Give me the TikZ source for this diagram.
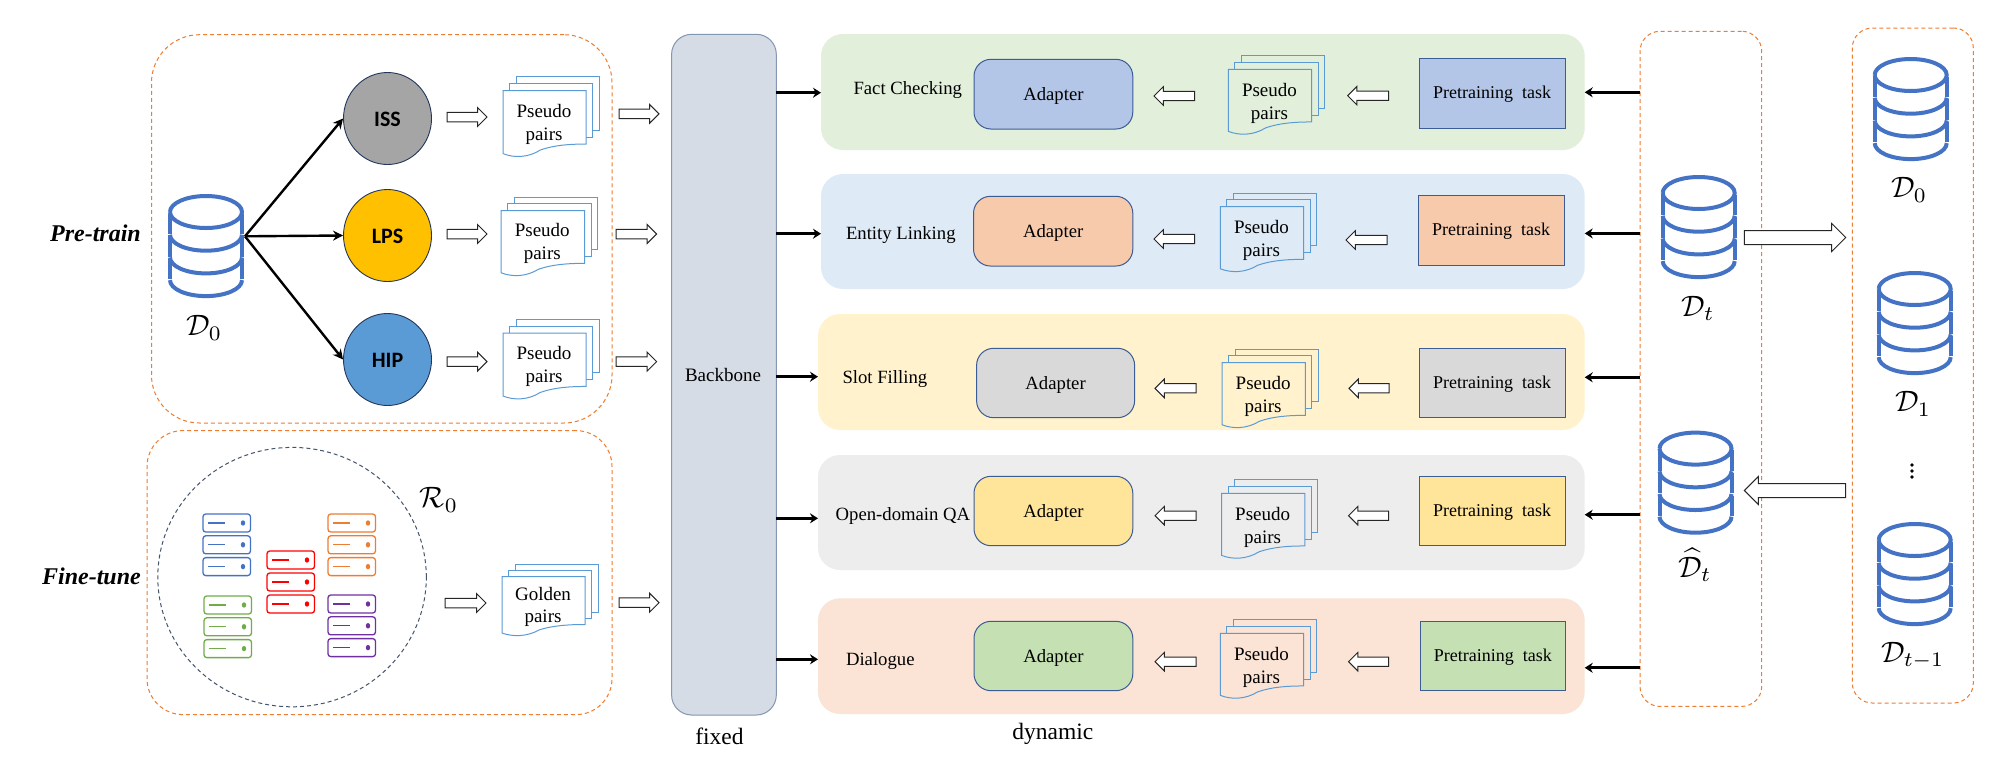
\documentclass[tikz,border=0pt]{standalone}
\usepackage{fontspec}
\setmainfont{Liberation Serif}
\newfontfamily\cali{Carlito}
\usetikzlibrary{shapes.geometric,arrows.meta}
\definecolor{dbblue}{HTML}{4472C4}
\definecolor{dashor}{HTML}{ED7D31}
\definecolor{docblue}{HTML}{5B9BD5}
\definecolor{edgeblue}{HTML}{3B5C94}
\definecolor{bandA}{HTML}{E2EFDA}
\definecolor{bandB}{HTML}{DEEAF6}
\definecolor{bandC}{HTML}{FFF2CC}
\definecolor{bandD}{HTML}{EDEDED}
\definecolor{bandE}{HTML}{FBE4D5}
\definecolor{fillA}{HTML}{B4C6E7}
\definecolor{fillB}{HTML}{F7CAAC}
\definecolor{fillC}{HTML}{D9D9D9}
\definecolor{fillD}{HTML}{FFE599}
\definecolor{fillE}{HTML}{C5E0B3}
\definecolor{srvB}{HTML}{4472C4}
\definecolor{srvO}{HTML}{ED7D31}
\definecolor{srvR}{HTML}{FF0000}
\definecolor{srvG}{HTML}{70AD47}
\definecolor{srvP}{HTML}{7030A0}
\tikzset{
  x=1pt,y=-1pt,
  txt/.style={inner sep=0pt,outer sep=0pt,font=\fontsize{18.7}{22.7}\selectfont,align=center,text=black},
  band/.style={txt,rounded corners=22pt,draw=none},
  adapter/.style={txt,rounded corners=17pt,draw=edgeblue,line width=1pt},
  pretask/.style={txt,draw=edgeblue,line width=1pt,font=\fontsize{18}{22}\selectfont},
  group/.style={draw=dashor,line width=1pt,dash pattern=on 4pt off 3pt,inner sep=0pt,outer sep=0pt},
  circ/.style={ellipse,draw=black!40!edgeblue,line width=.9pt,inner sep=0pt,minimum width=88pt,minimum height=92pt,font=\cali\bfseries\fontsize{22}{24}\selectfont},
  hollow/.style={draw=black!85,fill=white,line width=1pt,line join=miter},
  blk/.style={draw=black,line width=2.7pt,-{Stealth[length=8pt,width=10pt]}},
  thinblk/.style={draw=black,line width=2.4pt,-{Stealth[length=10pt,width=10pt]}},
  dbline/.style={draw=dbblue,line width=4pt},
  doc/.style={draw=docblue,line width=1pt},
  mathlbl/.style={inner sep=0pt,scale=2.95},
  rowlabel/.style={txt,anchor=west},
  bigital/.style={inner sep=0pt,font=\bfseries\itshape\fontsize{24}{28}\selectfont},
  ghost/.style={inner sep=0pt,outer sep=0pt,draw=none}
}
% style, name, x1,y1,x2,y2, text
\newcommand{\bx}[7]{%
  \pgfmathsetmacro\bxw{#5-#3}\pgfmathsetmacro\bxh{#6-#4}%
  \pgfmathsetmacro\bxx{(#3+#5)/2}\pgfmathsetmacro\bxy{(#4+#6)/2}%
  \node[#1,minimum width=\bxw pt,minimum height=\bxh pt] (#2) at (\bxx,\bxy) {#7};}
% name, x1, x2, cy, head width, direction (1 right, -1 left)
\newcommand{\harrow}[6]{%
  \pgfmathsetmacro\hcx{(#2+#3)/2}\pgfmathsetmacro\hl{(#3-#2)/2}\pgfmathsetmacro\hb{#5/4}\pgfmathsetmacro\hh{#5/2}%
  \node[ghost,minimum width=\hl*2 pt,minimum height=#5pt] (#1) at (\hcx,#4) {};
  \begin{scope}[shift={(\hcx,#4)},xscale=#6]
    \draw[hollow] (-\hl,-\hb) -- ({\hl-\hh},-\hb) -- ({\hl-\hh},-\hh) -- (\hl,0) -- ({\hl-\hh},\hh) -- ({\hl-\hh},\hb) -- (-\hl,\hb) -- cycle;
  \end{scope}}
% name, left, top
\newcommand{\dbicon}[3]{%
  \begin{scope}[shift={(#2,#3)}]
    \node[ghost,minimum width=76pt,minimum height=104.6pt] (#1) at (38,52.3) {};
    \draw[dbline] (2,18) arc[start angle=180,end angle=-180,x radius=36,y radius=16];
    \foreach \yy in {40.7,63.4,86.1}{\draw[dbline] (2,\yy) arc[start angle=180,end angle=0,x radius=36,y radius=16];}
    \draw[dbline] (2,19.5) -- (2,40); \draw[dbline] (74,19.5) -- (74,40);
    \draw[dbline] (2,42.2) -- (2,62.7); \draw[dbline] (74,42.2) -- (74,62.7);
    \draw[dbline] (2,64.9) -- (2,85.4); \draw[dbline] (74,64.9) -- (74,85.4);
  \end{scope}}
% name, x, y, w, h, first line, second line, text shift
\newcommand{\docstack}[8]{%
  \pgfmathsetmacro\dw{#4}\pgfmathsetmacro\dh{#5}%
  \pgfmathsetmacro\drt{\dh*0.81}\pgfmathsetmacro\dl{\dh*0.955}\pgfmathsetmacro\dyy{\dh*0.105}%
  \begin{scope}[shift={(#2,#3)}]
    \draw[doc] (0,0) -- (\dw,0) -- (\dw,\drt)
       .. controls ({\dw*0.8},\drt) and ({\dw*0.62},{\drt+1}) .. ({\dw*0.45},{\drt+\dh*0.09})
       .. controls ({\dw*0.3},{\dh*1.02}) and ({\dw*0.13},{\dh*1.02}) .. (0,\dl) -- cycle;
    \draw[doc] (6.5,0) -- (6.5,-\dyy) -- ({\dw+6.5},-\dyy) -- ({\dw+6.5},{\drt-\dyy}) -- (\dw,{\drt-\dyy});
    \draw[doc] (13,-\dyy) -- (13,{-2*\dyy}) -- ({\dw+13},{-2*\dyy}) -- ({\dw+13},{\drt-2*\dyy}) -- ({\dw+6.5},{\drt-2*\dyy});
    \node[txt,font=\fontsize{19}{22.7}\selectfont] (#1) at ({\dw/2-0.5},{\dh*0.485+#8}) {#6\\#7};
  \end{scope}}
% colour, left, top, step
\newcommand{\srv}[4]{%
  \foreach \ii in {0,1,2}{%
    \pgfmathsetmacro\sy{#3+\ii*#4}
    \begin{scope}[shift={(#2,\sy)}]
      \draw[#1,line width=1.3pt,rounded corners=2.8pt] (0,0) rectangle (47.5,18);
      \draw[#1,line width=1.3pt] (5,9) -- (21.5,9);
      \fill[#1] (40,9) ellipse[x radius=2.2,y radius=2.7];
    \end{scope}}}
\newcommand{\adtext}{\raisebox{-6pt}[0pt][0pt]{Adapter}}
\newcommand{\pttext}{\raisebox{-5.5pt}[0pt][0pt]{Pretraining\hspace{.25em} task}}
\newcommand{\circtext}[1]{\raisebox{-7.5pt}[0pt][0pt]{#1}}
\begin{document}
\begin{tikzpicture}
\useasboundingbox (0,0) rectangle (2003,756);
\fill[white] (0,0) rectangle (2003,756);

% dashed groups
\bx{group,rounded corners=48pt}{pretrain}{151.5}{34.7}{612}{423}{}
\bx{group,rounded corners=36pt}{finetune}{147}{430.6}{612}{714.6}{}
\bx{group,rounded corners=20pt}{dtbox}{1640}{31.3}{1761.7}{706.4}{}
\bx{group,rounded corners=20pt}{histbox}{1852.3}{28}{1973.3}{703}{}

% left labels
\node[bigital,anchor=east] (lpre) at (141,233) {Pre-train};
\node[bigital,anchor=east] (lfine) at (141,576) {Fine-tune};

% pre-train
\dbicon{dbzero}{168}{194}
\node[mathlbl] (dzero) at (204,328) {$\mathcal{D}_0$};
\node[circ,fill={rgb,255:red,165;green,165;blue,165}] (iss) at (387.5,118.5) {\circtext{ISS}};
\node[circ,fill={rgb,255:red,255;green,192;blue,0}] (lps) at (387.5,235.5) {\circtext{LPS}};
\node[circ,fill={rgb,255:red,91;green,155;blue,213}] (hip) at (387.5,359.5) {\circtext{HIP}};
\coordinate (dbout) at (245,236.3);
\draw[thinblk] (dbout) -- (iss.west);
\draw[thinblk] (dbout) -- (lps.west);
\draw[thinblk] (dbout) -- (hip.west);
\harrow{a1}{447}{487}{117}{19}{1}
\harrow{a2}{447}{487}{234}{19}{1}
\harrow{a3}{447}{487}{361.6}{19}{1}
\harrow{a4}{445}{486}{603}{19}{1}
\docstack{p1}{503}{90.6}{83}{66}{Pseudo}{pairs}{1.5}
\docstack{p2}{501}{210.7}{83.5}{65}{Pseudo}{pairs}{1.5}
\docstack{p3}{503}{333}{83}{66}{Pseudo}{pairs}{1.5}
\docstack{g1}{502}{576.7}{83}{59}{Golden}{pairs}{1.5}
\harrow{b1}{619}{659}{113.8}{19}{1}
\harrow{b2}{616}{656.6}{234}{19}{1}
\harrow{b3}{616}{656.6}{361.6}{19}{1}
\harrow{b4}{619}{659}{602.7}{19}{1}

% fine-tune
\bx{ellipse,draw={rgb,255:red,68;green,84;blue,106},line width=1pt,dash pattern=on 4pt off 3pt,inner sep=0pt}{rcircle}{157.8}{447.4}{426.3}{706.8}{}
\node[mathlbl] (rzero) at (439,500) {$\mathcal{R}_0$};
\srv{srvB}{203}{514}{21.8}
\srv{srvO}{328}{514}{21.8}
\srv{srvR}{267}{551}{22}
\srv{srvG}{204}{596}{21.8}
\srv{srvP}{328}{595}{21.8}

% backbone
\bx{txt,fill={rgb,255:red,214;green,220;blue,229},draw={rgb,255:red,132;green,150;blue,176},line width=1pt,rounded corners=20pt}{backbone}{671.6}{34.3}{776.3}{715}{}
\node[txt,font=\fontsize{19}{22}\selectfont] (bblabel) at (723,375) {Backbone};
\node[txt,font=\fontsize{23.5}{26}\selectfont] (fixedl) at (719.4,736) {fixed};
\node[txt,font=\fontsize{23.5}{26}\selectfont] (dynl) at (1052.8,734) {dynamic};

% rows
\bx{band,fill=bandA}{band1}{821}{34}{1584.7}{150}{}
\bx{band,fill=bandB}{band2}{821}{174}{1584.7}{289}{}
\bx{band,fill=bandC}{band3}{818}{314}{1584.7}{430}{}
\bx{band,fill=bandD}{band4}{818}{455}{1584.7}{570}{}
\bx{band,fill=bandE}{band5}{818}{598.3}{1584.7}{714}{}

\node[rowlabel] (t1) at (853.5,89.8) {Fact Checking};
\node[rowlabel] (t2) at (846,234.8) {Entity Linking};
\node[rowlabel] (t3) at (842.5,378.8) {Slot Filling};
\node[rowlabel] (t4) at (835.7,515.5) {Open-domain QA};
\node[rowlabel] (t5) at (846,661.3) {Dialogue};

\bx{adapter,fill=fillA}{ad1}{974}{59.3}{1132.8}{129}{\adtext}
\bx{adapter,fill=fillB}{ad2}{973.5}{196.3}{1132.8}{266}{\adtext}
\bx{adapter,fill=fillC}{ad3}{976.6}{348.3}{1134.6}{417.7}{\adtext}
\bx{adapter,fill=fillD}{ad4}{974}{476.3}{1132.8}{545.7}{\adtext}
\bx{adapter,fill=fillE}{ad5}{974}{621.3}{1132.8}{690.7}{\adtext}

\bx{pretask,fill=fillA}{pt1}{1419.3}{58.3}{1565}{128}{\pttext}
\bx{pretask,fill=fillB}{pt2}{1418}{195.3}{1564}{265}{\pttext}
\bx{pretask,fill=fillC}{pt3}{1419.3}{348.3}{1565}{417.7}{\pttext}
\bx{pretask,fill=fillD}{pt4}{1419.3}{476.3}{1565}{545.7}{\pttext}
\bx{pretask,fill=fillE}{pt5}{1420}{621.3}{1565.7}{690.7}{\pttext}

\docstack{q1}{1228.3}{69.3}{83.3}{65}{Pseudo}{pairs}{2.5}
\docstack{q2}{1220.3}{206.7}{83.3}{65}{Pseudo}{pairs}{2.5}
\docstack{q3}{1222}{362.7}{83.3}{65}{Pseudo}{pairs}{2.5}
\docstack{q4}{1221.5}{493.3}{83.3}{65}{Pseudo}{pairs}{2.5}
\docstack{q5}{1220.3}{633.3}{83.3}{65}{Pseudo}{pairs}{2.5}

\harrow{l1}{1154}{1194.6}{96}{18.5}{-1}
\harrow{r1}{1347.7}{1388.7}{95.7}{18.5}{-1}
\harrow{l2}{1154}{1194.6}{239}{18.5}{-1}
\harrow{r2}{1346}{1387}{240}{18.5}{-1}
\harrow{l3}{1155}{1196}{388.3}{18.5}{-1}
\harrow{r3}{1349}{1389}{388.3}{18.5}{-1}
\harrow{l4}{1155}{1196}{515.7}{18.5}{-1}
\harrow{r4}{1348.5}{1388.7}{515.7}{18.5}{-1}
\harrow{l5}{1155}{1196}{661.7}{18.5}{-1}
\harrow{r5}{1348.5}{1388.7}{661.7}{18.5}{-1}

% backbone to rows
\coordinate (bk1) at (776.3,92.7);
\coordinate (bk2) at (776.3,233.7);
\coordinate (bk3) at (776.3,376.7);
\coordinate (bk4) at (776.3,518.3);
\coordinate (bk5) at (776.3,659.3);
\foreach \i in {1,...,5}{\draw[blk] (bk\i) -- (band\i.west |- bk\i);}
% dataset box to rows
\coordinate (dr1) at (1640,92.3);
\coordinate (dr2) at (1640,233.4);
\coordinate (dr3) at (1640,377.3);
\coordinate (dr4) at (1640,514.7);
\coordinate (dr5) at (1640,667.8);
\foreach \i in {1,...,5}{\draw[blk] (dr\i) -- (band\i.east |- dr\i);}

% right databases
\dbicon{dbt}{1660.7}{175}
\node[mathlbl] (dtl) at (1698,308.6) {$\mathcal{D}_t$};
\dbicon{dbh}{1657.5}{430.6}
\node[mathlbl] (dhl) at (1695,565) {$\widehat{\mathcal{D}}_t$};
\dbicon{db0}{1872.7}{57}
\node[mathlbl] (d0l) at (1909,190) {$\mathcal{D}_0$};
\dbicon{db1}{1876.7}{271}
\node[mathlbl] (d1l) at (1913,404) {$\mathcal{D}_1$};
\node[ghost,minimum width=4pt,minimum height=16pt] (vd) at (1912,471) {};
\fill (vd.center) ++(0,-6) circle (1.9) ++(0,6) circle (1.9) ++(0,6) circle (1.9);
\dbicon{db2}{1876.7}{522}
\node[mathlbl] (d2l) at (1912.7,655.7) {$\mathcal{D}_{t-1}$};
\harrow{bigr}{1744.3}{1845.7}{237.5}{28}{1}
\harrow{bigl}{1744.3}{1845.7}{490.5}{28}{-1}
\end{tikzpicture}
\end{document}
